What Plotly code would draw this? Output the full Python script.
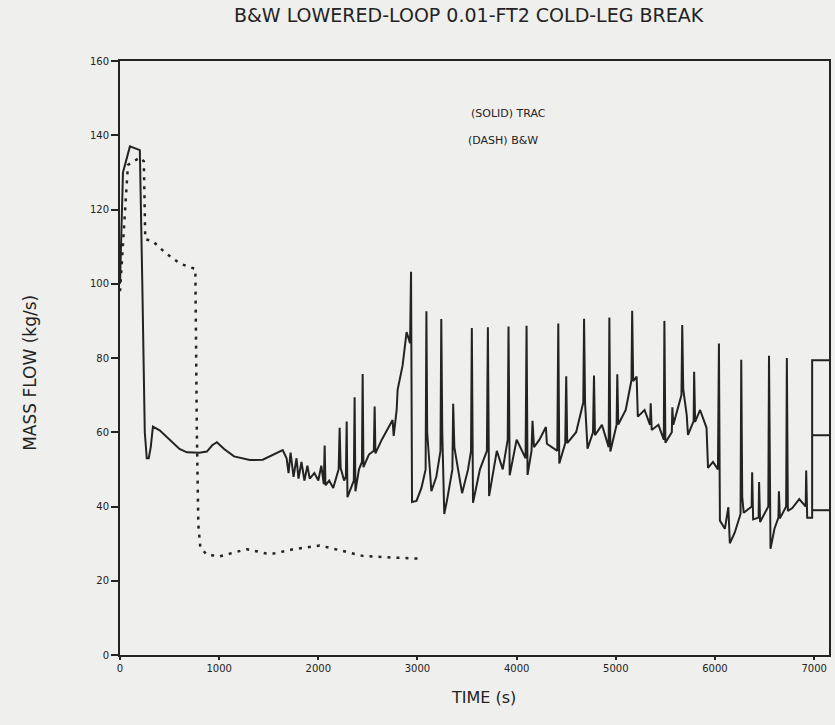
import plotly.graph_objects as go

# Time axis ticks (s) and mass-flow ticks (kg/s)
time_ticks = [0, 1000, 2000, 3000, 4000, 5000, 6000, 7000]
flow_ticks = [0, 20, 40, 60, 80, 100, 120, 140, 160]

# TRAC calculation (solid). None entries separate the short end segments.
trac_time = [
    0, 30, 100, 200, 225, 250, 270, 290, 310, 332, 400, 500, 600, 675, 800, 876,
    930, 977, 1050, 1150, 1309, 1440, 1550, 1641,
    1680, 1700, 1720, 1750, 1780, 1800, 1830, 1860, 1890, 1913, 1960, 2000, 2030,
    2055, 2064, 2072, 2110, 2150, 2205, 2215, 2225, 2260, 2278, 2286, 2294, 2330,
    2358, 2366, 2374, 2410, 2440, 2447, 2455, 2510, 2560, 2568, 2576, 2640, 2700,
    2749, 2760, 2790, 2800, 2850, 2890, 2925, 2935, 2945, 2990, 3040, 3082, 3090,
    3098, 3130, 3140, 3190, 3232, 3240, 3250, 3270, 3300, 3352, 3360, 3372, 3420,
    3450, 3510, 3540, 3548, 3560, 3630, 3700, 3710, 3722, 3800, 3860, 3910, 3918,
    3930, 4000, 4090, 4100, 4110, 4150, 4160, 4175, 4230, 4295, 4305, 4410, 4420,
    4430, 4490, 4500, 4510, 4600, 4672, 4680, 4690, 4705, 4715, 4770, 4780, 4790,
    4860, 4928, 4935, 4945, 5008, 5015, 5025, 5100, 5158, 5165, 5175, 5210, 5222,
    5290, 5345, 5352, 5362, 5430, 5484, 5490, 5500, 5565, 5570, 5580, 5662, 5670,
    5680, 5715, 5728, 5785, 5790, 5800, 5850, 5915, 5930, 5980, 6030, 6040, 6050,
    6100, 6135, 6150, 6200, 6258, 6265, 6275, 6290, 6370, 6375, 6385, 6440, 6445,
    6455, 6538, 6545, 6560, 6600, 6640, 6645, 6655, 6718, 6725, 6735, 6780, 6850,
    6915, 6920, 6930, 6980, 6980, 7150,
    None, 6980, 7150,
    None, 6980, 7150,
]
trac_flow = [
    100, 130, 137, 136, 100, 60, 53, 53, 56, 61.5, 60.5, 58, 55.5, 54.6, 54.5, 54.8,
    56.5, 57.3, 55.5, 53.5, 52.5, 52.6, 54, 55.2,
    53, 49, 54.5, 48, 53, 47.5, 52, 47, 51, 47.5, 49, 47, 51,
    46, 56.4, 45.7, 47, 45, 50, 61.2, 50.4, 47, 48, 62.9, 42.5, 45,
    47, 69.4, 44.1, 50, 52, 75.7, 50.6, 54, 55, 66.9, 54.3, 58, 61,
    63.3, 59, 66, 71.5, 78, 87, 84, 103.2, 41.2, 41.5, 45, 50, 92.6,
    60, 46, 44.1, 48, 55, 90.5, 60, 38, 42, 50, 67.7, 55.9, 49,
    43.6, 50, 55, 88.1, 41, 50, 55, 88.3, 42.8, 55, 50, 58, 88.5,
    48.4, 58, 53, 88.7, 48.5, 55, 63.1, 56, 58, 61.4, 56.9, 55, 89.3,
    51.6, 57, 75.1, 57.1, 60, 68, 90.6, 67.9, 61.8, 55.6, 60, 75.3, 59.2,
    62, 56, 90.9, 54.8, 62, 75.6, 62.1, 66, 74, 92.7, 73.8, 75, 64.2,
    66, 62, 67.8, 60.6, 62, 58, 90, 57.2, 60, 66.7, 62, 70, 88.9,
    71.6, 64.7, 59.3, 63, 76.3, 62.8, 66, 61.2, 50.4, 52, 50, 83.9, 36.2,
    34, 39.8, 30.1, 33, 38, 79.5, 42.6, 38.3, 40, 49.2, 36.5, 37, 46.6,
    35.8, 40, 80.6, 28.6, 34, 37, 44.1, 36.8, 40, 80, 38.8, 39.6, 42,
    40, 49.7, 37, 37, 79.4, 79.4,
    None, 59.2, 59.2,
    None, 39, 39,
]

# B&W calculation (dashed)
bw_time = [0, 80, 200, 240, 255, 330, 450, 600, 700, 760, 775, 790, 810, 876,
           1007, 1150, 1279, 1400, 1510, 1750, 2014, 2250, 2447, 2700, 3060]
bw_flow = [98, 132, 134, 133, 112, 111.5, 108.5, 105.5, 104.5, 104, 60, 35, 29, 27,
           26.6, 27.5, 28.5, 27.8, 27.1, 28.5, 29.5, 28, 26.7, 26.3, 25.9]

INK = "#232323"
PAPER = "#efefed"
FONT = "DejaVu Sans"

fig = go.Figure()
fig.add_trace(go.Scatter(
    x=trac_time, y=trac_flow, mode="lines", connectgaps=False,
    line=dict(color=INK, width=2), showlegend=False,
))
fig.add_trace(go.Scatter(
    x=bw_time, y=bw_flow, mode="lines",
    line=dict(color=INK, width=2.5, dash="3px,6px"), showlegend=False,
))

axis_common = dict(
    showline=True, linecolor=INK, linewidth=2, mirror=True,
    showgrid=False, zeroline=False,
    tickfont=dict(family=FONT, size=10, color=INK),
    tickcolor=INK, tickwidth=2,
)

fig.update_layout(
    width=835, height=725,
    margin=dict(l=120, r=4, t=61, b=70),
    paper_bgcolor=PAPER, plot_bgcolor=PAPER,
    font=dict(family=FONT, color=INK),
    xaxis=dict(range=[0, 7150], tickvals=time_ticks,
               ticktext=[str(v) for v in time_ticks],
               ticks="outside", ticklen=3, **axis_common),
    yaxis=dict(range=[0, 160], tickvals=flow_ticks,
               ticktext=[str(v) for v in flow_ticks],
               ticks="outside", ticklen=7, **axis_common),
    annotations=[
        dict(text="B&amp;W LOWERED-LOOP 0.01-FT2 COLD-LEG BREAK",
             xref="paper", yref="paper", x=0.492, y=1.077,
             xanchor="center", yanchor="middle", showarrow=False,
             font=dict(family=FONT, size=19, color=INK)),
        dict(text="(SOLID) TRAC", xref="paper", yref="paper",
             x=0.492, y=0.911, xanchor="left", yanchor="middle",
             showarrow=False, font=dict(family=FONT, size=11, color=INK)),
        dict(text="(DASH) B&amp;W", xref="paper", yref="paper",
             x=0.488, y=0.867, xanchor="left", yanchor="middle",
             showarrow=False, font=dict(family=FONT, size=11, color=INK)),
        dict(text="MASS FLOW (kg/s)", xref="paper", yref="paper",
             x=-0.127, y=0.475, textangle=-90, xanchor="center",
             yanchor="middle", showarrow=False,
             font=dict(family=FONT, size=17, color=INK)),
        dict(text="TIME (s)", xref="paper", yref="paper",
             x=0.513, y=-0.071, xanchor="center", yanchor="middle",
             showarrow=False, font=dict(family=FONT, size=16, color=INK)),
    ],
)

fig.write_html("out.html")
